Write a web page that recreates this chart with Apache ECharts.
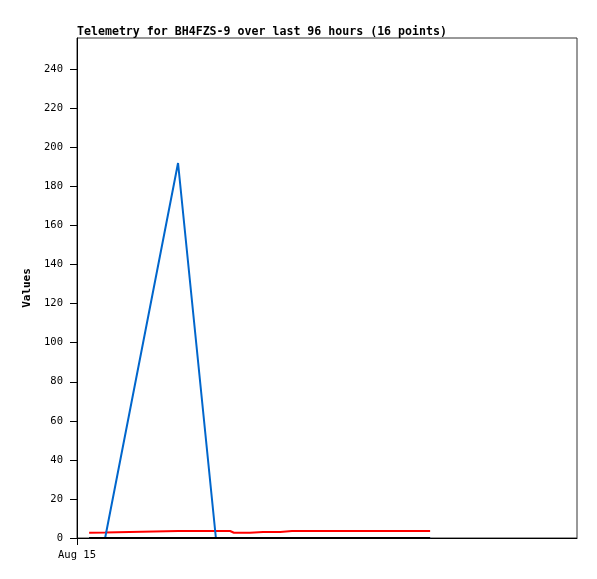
<!DOCTYPE html>
<html>
<head>
<meta charset="utf-8">
<script src="https://cdn.jsdelivr.net/npm/echarts@6/dist/echarts.min.js"></script>
<style>
html,body{margin:0;padding:0;background:#fff;}
#c{width:597px;height:579px;}
</style>
</head>
<body>
<div id="c"></div>
<script>
const titleText = 'Telemetry for BH4FZS-9 over last 96 hours (16 points)';
const yName = 'Values';
const axisStart = '2024-08-15T00:00:00Z';
const axisSpanHours = 24;
const xLabel = 'Aug 15';
const times = ['2024-08-15T00:35:00Z','2024-08-15T01:21:00Z','2024-08-15T04:51:00Z','2024-08-15T06:40:00Z',
  '2024-08-15T07:21:00Z','2024-08-15T07:32:00Z','2024-08-15T08:18:00Z','2024-08-15T08:56:00Z',
  '2024-08-15T09:45:00Z','2024-08-15T10:19:00Z','2024-08-15T11:11:00Z','2024-08-15T12:23:00Z',
  '2024-08-15T13:35:00Z','2024-08-15T14:47:00Z','2024-08-15T15:59:00Z','2024-08-15T16:57:00Z'];
const blueVals = [0,0,192,0,0,0,0,0,0,0,0,0,0,0,0,0];
const redVals = [2.7,2.8,3.6,3.6,3.6,2.7,2.7,3.1,3.1,3.6,3.6,3.6,3.6,3.6,3.6,3.6];
const blackVals = [0,0,0,0,0,0,0,0,0,0,0,0,0,0,0,0];
const yTicks = [0,20,40,60,80,100,120,140,160,180,200,220,240];

const startMs = Date.parse(axisStart);
const hrs = times.map(t => (Date.parse(t) - startMs) / 3600000);
const pair = v => hrs.map((h,i)=>[h, v[i]]);
const mono = '"DejaVu Sans Mono", "Liberation Mono", monospace';
const chart = echarts.init(document.getElementById('c'), null, {renderer:'canvas'});
chart.setOption({
  animation:false,
  backgroundColor:'#fff',
  title:{text:titleText,left:77,top:26,padding:0,
    textStyle:{fontFamily:mono,fontSize:11.6,fontWeight:'bold',color:'#000'}},
  grid:{left:77,top:38,right:20,bottom:41,show:true,borderColor:'#333',borderWidth:1,backgroundColor:'transparent'},
  xAxis:{type:'value',min:0,max:axisSpanHours,
    axisLine:{lineStyle:{color:'#000',width:1}},
    axisTick:{show:true,length:7,lineStyle:{color:'#000'},customValues:[0]},
    axisLabel:{customValues:[0],formatter:()=>xLabel,fontFamily:mono,fontSize:10.5,color:'#000',margin:12},
    splitLine:{show:false}},
  yAxis:{type:'value',min:0,max:256,name:yName,nameLocation:'middle',nameGap:39,nameRotate:90,
    nameTextStyle:{fontFamily:mono,fontSize:11,fontWeight:'bold',color:'#000'},
    axisLine:{show:true,lineStyle:{color:'#000',width:1}},
    axisTick:{show:true,length:7,lineStyle:{color:'#000'},customValues:yTicks},
    axisLabel:{customValues:yTicks,fontFamily:mono,fontSize:10.5,color:'#000',margin:14},
    splitLine:{show:false}},
  series:[
    {type:'line',data:pair(redVals),showSymbol:false,lineStyle:{color:'#ff0000',width:2},z:2},
    {type:'line',data:pair(blueVals),showSymbol:false,lineStyle:{color:'#0066cc',width:2},z:3},
    {type:'line',data:pair(blackVals),showSymbol:false,lineStyle:{color:'#000000',width:2},z:4}
  ]
});
</script>
</body>
</html>
